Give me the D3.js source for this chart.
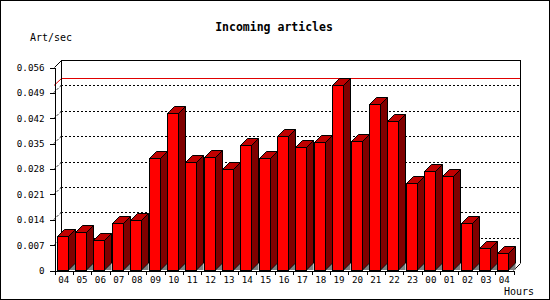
<!DOCTYPE html>
<html>
<head>
<meta charset="utf-8">
<script src="https://cdn.jsdelivr.net/npm/d3@7"></script>
<style>
  body { margin: 0; background: #fff; }
  text { font-family: "DejaVu Sans Mono", monospace; fill: #000; }
</style>
</head>
<body>
<svg id="chart" width="550" height="300"></svg>
<script>
// ======== Data ========
var hours = ["04", "05", "06", "07", "08", "09", "10", "11", "12", "13", "14", "15", "16",
             "17", "18", "19", "20", "21", "22", "23", "00", "01", "02", "03", "04"];
var rates = [0.0094, 0.0105, 0.0082, 0.0130, 0.0137, 0.0308, 0.0434, 0.0299, 0.0313, 0.0280,
             0.0346, 0.0308, 0.0369, 0.0338, 0.0352, 0.0511, 0.0355, 0.0457, 0.0410, 0.0239,
             0.0274, 0.0259, 0.0129, 0.0060, 0.0046];
var y_ticks = [0, 0.007, 0.014, 0.021, 0.028, 0.035, 0.042, 0.049, 0.056];

// ======== Setup ========
var svg = d3.select('#chart');
var depth = 7;
var left = 54, right = 513, bottom = 270, top_ = 67;

var x_scale = d3.scaleBand()
    .domain(d3.range(hours.length))
    .range([left, right]);
var x_edges = d3.scaleLinear()
    .domain([0, hours.length])
    .range([left, right]);
var y_scale = d3.scaleLinear()
    .domain([0, d3.max(y_ticks)])
    .range([bottom, top_]);

// outer frame
svg.append('rect')
    .attr('x', 0.5).attr('y', 0.5)
    .attr('width', 549).attr('height', 299)
    .attr('fill', 'none').attr('stroke', '#000')
    .attr('shape-rendering', 'crispEdges');

// title + axis captions
svg.append('text')
    .attr('x', 274).attr('y', 31)
    .attr('text-anchor', 'middle')
    .style('font-size', '11.5px').style('font-weight', 'bold')
    .text('Incoming articles');
svg.append('text')
    .attr('x', 30).attr('y', 40.5)
    .style('font-size', '10px')
    .text('Art/sec');
svg.append('text')
    .attr('x', 534).attr('y', 295)
    .attr('text-anchor', 'end')
    .style('font-size', '10px')
    .text('Hours');

// ======== Back wall + grid ========
var wall = svg.append('g').attr('shape-rendering', 'crispEdges');

// dotted grid on back wall and left side wall
y_ticks.slice(1, -1).forEach(function (t) {
    var yy = Math.round(y_scale(t)) + 0.5;
    wall.append('line')
        .attr('x1', left + depth).attr('x2', right + depth)
        .attr('y1', yy - depth).attr('y2', yy - depth)
        .attr('stroke', '#000').attr('stroke-dasharray', '2,2');
    wall.append('line')
        .attr('x1', left).attr('x2', left + depth)
        .attr('y1', yy).attr('y2', yy - depth)
        .attr('stroke', '#000').attr('stroke-dasharray', '2,2')
        .attr('shape-rendering', 'auto');
});

// max line
var y_max = Math.round(y_scale(d3.max(rates))) + 0.5;
wall.append('line')
    .attr('x1', left + depth + 0.5).attr('x2', right + depth)
    .attr('y1', y_max - depth).attr('y2', y_max - depth)
    .attr('stroke', '#e00000');
wall.append('line')
    .attr('x1', left).attr('x2', left + depth + 0.5)
    .attr('y1', y_max).attr('y2', y_max - depth)
    .attr('stroke', '#e00000').attr('shape-rendering', 'auto');

// back wall outline (top, left, right)
wall.append('path')
    .attr('d', 'M' + (left + depth + 0.5) + ',' + (bottom - depth) +
               'V' + (top_ - depth + 0.5) +
               'H' + (right + depth + 0.5) +
               'V' + (bottom - depth))
    .attr('fill', 'none').attr('stroke', '#000');
// corner diagonals
svg.append('line')
    .attr('x1', left + 0.5).attr('y1', top_ + 0.5)
    .attr('x2', left + depth + 0.5).attr('y2', top_ - depth + 0.5)
    .attr('stroke', '#000');
svg.append('line')
    .attr('x1', right + 0.5).attr('y1', bottom + 0.5)
    .attr('x2', right + depth + 0.5).attr('y2', bottom - depth + 0.5)
    .attr('stroke', '#000');

// ======== Bars ========
var bw = x_scale.bandwidth();
var bars = svg.append('g')
    .selectAll('g')
    .data(rates)
    .enter()
    .append('g');

function fx(d, i) { return Math.round(x_scale(i) + bw * 0.15) + 0.5; }
var fw = Math.round(bw * 0.61);

bars.append('polygon')   // floor shadow
    .attr('points', function (d, i) {
        var x0 = fx(d, i) + fw;
        return [[x0, bottom], [x0 + depth, bottom - depth], [x0 + depth, bottom]].join(' ');
    })
    .attr('fill', '#808080');

bars.append('polygon')   // side
    .attr('points', function (d, i) {
        var x0 = fx(d, i) + fw, yt = Math.round(y_scale(d)) + 0.5;
        return [[x0, yt], [x0 + depth, yt - depth], [x0 + depth, bottom - depth], [x0, bottom]].join(' ');
    })
    .attr('fill', '#800000').attr('stroke', '#000');

bars.append('polygon')   // top
    .attr('points', function (d, i) {
        var x0 = fx(d, i), yt = Math.round(y_scale(d)) + 0.5;
        return [[x0, yt], [x0 + fw, yt], [x0 + fw + depth, yt - depth], [x0 + depth, yt - depth]].join(' ');
    })
    .attr('fill', '#c00000').attr('stroke', '#000');

bars.append('rect')      // front
    .attr('x', fx)
    .attr('y', function (d) { return Math.round(y_scale(d)) + 0.5; })
    .attr('width', fw)
    .attr('height', function (d) { return bottom - Math.round(y_scale(d)); })
    .attr('fill', '#ff0000').attr('stroke', '#000')
    .attr('shape-rendering', 'crispEdges');

// ======== Axes ========
var y_axis = svg.append('g')
    .attr('transform', 'translate(' + (left + 0.5) + ',0.5)')
    .call(d3.axisLeft(y_scale)
        .tickValues(y_ticks)
        .tickSize(5).tickSizeOuter(0).tickPadding(5)
        .tickFormat(function (v) { return v === 0 ? '0' : d3.format('.3f')(v); }));

var x_ticks = svg.append('g')
    .attr('transform', 'translate(0.5,' + (bottom + 0.5) + ')')
    .call(d3.axisBottom(x_edges)
        .tickValues(d3.range(hours.length + 1))
        .tickSize(4).tickSizeOuter(0)
        .tickFormat(''));

var x_labels = svg.append('g')
    .attr('transform', 'translate(0.5,' + (bottom + 0.5) + ')')
    .call(d3.axisBottom(x_scale)
        .tickSize(0).tickPadding(6)
        .tickFormat(function (i) { return hours[i]; }));
x_labels.select('.domain').remove();

[y_axis, x_ticks, x_labels].forEach(function (g) {
    g.attr('font-family', null).attr('font-size', null)
        .attr('shape-rendering', 'crispEdges');
    g.selectAll('text').style('font-size', '9.2px');
});
</script>
</body>
</html>
